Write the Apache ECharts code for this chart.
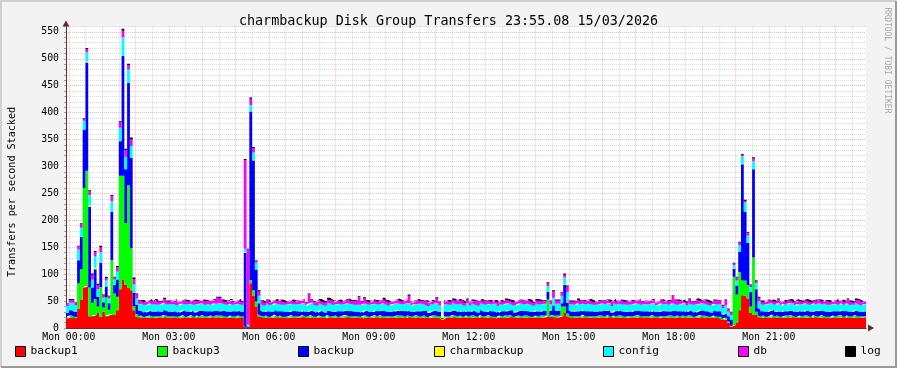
<!DOCTYPE html>
<html><head><meta charset="utf-8">
<script src="https://cdn.jsdelivr.net/npm/echarts@6/dist/echarts.min.js"></script>
<style>html,body{margin:0;padding:0;background:#f3f3f3;}#c{width:897px;height:368px;}</style>
</head><body><div id="c"></div>
<script>
// ---- data (5-minute steps starting Sun 23:55) ----
const stepMinutes = 5;
const startMinute = -5;
const seriesNames = ['backup1','backup3','backup','charmbackup','config','db','log'];
const xTickLabels = ['Mon 00:00','Mon 03:00','Mon 06:00','Mon 09:00','Mon 12:00','Mon 15:00','Mon 18:00','Mon 21:00'];
const yTickLabels = ['0','50','100','150','200','250','300','350','400','450','500','550'];

const backup1 = [
18,20,20,18,36,52,75,78,22,22,24,28,21,30,22,24,26,24,33,72,90,80,75,70,
33,21,19,20,19,19,20,18,19,20,19,21,19,19,20,19,18,19,20,19,19,21,19,20,
19,20,19,19,21,19,20,19,20,19,19,20,18,19,20,19,3,1,83,60,40,22,20,19,
20,19,19,21,19,20,19,18,19,20,19,19,20,21,19,19,20,19,19,20,19,18,20,19,
19,20,19,19,20,21,19,19,20,19,18,19,20,19,19,21,19,20,19,19,20,19,19,20,
19,20,19,21,19,19,20,19,19,20,18,19,20,19,19,16,19,20,19,21,19,19,20,19,
20,19,19,20,19,21,19,19,20,19,18,19,20,19,19,20,21,19,19,20,19,19,20,19,
19,20,19,19,20,23,20,21,19,20,22,28,22,20,19,19,20,19,21,19,19,20,19,19,
20,19,19,21,19,20,19,19,20,18,19,20,19,19,21,19,20,19,19,20,19,18,20,19,
19,20,19,19,21,19,20,19,19,20,19,19,21,19,20,19,19,20,19,18,15,16,10,3,
5,10,33,61,60,55,28,24,24,20,19,20,19,19,21,19,20,19,19,20,19,21,19,19,
20,19,19,20,19,21,19,19,20,19,18,19,20,19,19,21,19,20,19,19,20,19,19,20];

const backup3 = [
2,3,3,3,47,57,185,214,53,25,30,12,55,8,35,10,100,40,25,211,193,115,190,78,
8,5,3,3,2,3,3,4,3,2,3,3,4,3,2,3,3,3,4,2,3,3,2,3,
3,4,3,3,2,3,3,4,3,3,2,3,4,3,3,3,1,0,6,10,9,4,3,3,
3,2,3,4,3,3,2,3,3,4,3,3,2,3,3,3,4,3,2,3,3,3,4,3,
3,3,2,3,4,3,3,3,2,3,3,4,3,2,3,3,3,4,3,3,2,3,3,3,
4,3,3,2,3,3,4,3,3,3,2,3,3,4,3,0,3,2,3,3,4,3,3,2,
3,3,4,3,2,3,3,3,4,3,3,2,3,3,4,3,3,2,3,3,3,4,3,3,
2,3,3,4,3,30,3,3,4,3,18,12,5,3,3,3,2,3,4,3,3,2,3,3,
3,4,3,3,2,3,3,4,3,3,3,2,3,4,3,3,2,3,3,4,3,3,2,3,
3,3,4,3,2,3,3,3,4,3,2,3,3,4,3,3,2,3,3,3,2,3,2,1,
90,52,71,28,28,25,12,107,6,4,3,3,2,3,4,3,3,2,3,3,4,3,3,2,
3,3,4,3,2,3,3,3,4,3,3,2,3,3,4,3,2,3,3,3,4,3,3,2];

const backup = [
8,10,10,9,43,60,108,201,150,28,55,18,45,10,20,12,90,16,32,64,222,100,190,168,
24,17,10,9,8,9,10,8,9,9,8,10,9,8,9,10,8,9,9,10,8,9,8,9,
10,8,9,9,8,10,9,8,9,10,9,8,9,9,10,8,136,2,313,241,59,20,9,8,
9,10,8,9,9,8,10,9,8,9,9,10,8,9,8,9,10,9,8,9,10,8,9,9,
8,9,10,9,8,9,9,10,8,9,8,9,10,9,8,9,9,8,10,9,8,9,9,10,
8,9,9,10,8,9,8,9,10,9,8,9,9,10,8,0,9,8,9,10,9,8,9,9,
10,8,9,9,8,10,9,8,9,9,10,8,9,9,8,10,9,8,9,9,10,8,9,8,
9,10,8,9,9,14,9,18,9,10,6,40,20,9,8,9,10,9,8,9,9,10,8,9,
8,9,10,9,8,9,9,10,8,9,9,8,10,9,8,9,9,10,8,9,8,9,10,9,
9,8,9,10,8,9,9,8,10,9,8,9,9,10,8,9,8,10,9,10,8,9,10,12,
15,17,37,215,128,78,27,164,42,12,9,8,9,10,9,8,9,9,10,8,9,9,8,10,
9,8,10,9,9,8,9,10,8,9,9,10,8,9,8,9,10,9,8,9,10,9,8,9];

const charmbackup = [
1,0,0,0,0,0,0,2,2,0,3,0,0,0,0,0,0,0,0,0,0,0,0,0,
0,0,0,0,0,0,0,0,0,0,0,0,0,0,0,0,0,0,0,0,0,0,1,0,
0,0,0,0,0,0,0,0,0,0,0,0,0,0,0,0,1,0,0,0,0,0,0,0,
0,0,0,0,0,0,0,0,0,0,0,0,0,0,0,0,0,0,0,0,0,0,1,1,
0,0,0,0,0,0,0,0,0,0,0,0,0,0,0,0,0,0,0,0,0,0,0,1,
1,0,0,0,0,0,0,0,0,0,0,0,0,0,0,1,0,0,0,1,1,0,0,0,
0,0,0,0,0,0,0,0,0,0,0,0,0,0,0,0,0,0,0,0,0,1,0,0,
0,0,0,0,0,0,0,0,0,0,0,1,0,0,1,0,0,0,0,0,0,0,0,0,
0,0,0,0,0,0,0,0,0,0,0,0,0,0,0,0,0,0,0,0,0,0,0,1,
1,0,0,0,0,0,0,0,0,0,0,0,0,0,0,0,0,0,0,0,0,0,0,0,
1,0,0,1,0,0,0,0,0,0,0,0,0,0,0,0,0,0,0,0,0,0,0,0,
0,0,0,0,0,0,1,1,0,0,0,0,0,0,0,0,0,0,0,0,0,0,0,0];

const config = [
12,14,14,12,20,17,17,17,20,15,21,14,20,8,11,9,20,10,15,25,35,23,25,22,
16,12,12,13,14,12,13,14,13,12,14,13,12,14,13,12,13,14,12,13,14,12,13,12,
13,14,12,13,12,14,13,15,14,12,13,14,12,13,12,13,6,3,12,15,13,14,13,12,
14,12,13,12,14,13,12,13,14,12,13,12,14,13,12,14,13,12,13,14,12,13,12,14,
13,12,14,13,12,13,14,12,13,12,14,13,12,13,14,12,13,12,14,13,12,13,14,12,
13,12,14,13,12,13,12,14,13,12,13,14,12,13,12,0,13,14,12,13,12,14,13,12,
13,12,14,12,13,12,14,13,12,13,14,12,13,12,14,13,12,13,12,14,13,12,13,14,
12,13,14,12,13,11,12,14,13,12,14,13,20,12,13,12,14,13,12,13,14,12,13,12,
13,14,12,13,12,14,13,12,13,14,12,13,12,14,13,12,13,12,14,13,12,13,14,12,
13,12,14,13,12,13,14,12,13,12,14,13,12,13,14,12,13,12,13,13,12,14,8,8,
6,9,13,14,17,14,9,15,11,14,13,12,14,13,12,13,14,12,13,12,14,13,12,13,
12,14,13,12,13,14,12,13,12,14,13,12,13,14,12,13,12,14,13,12,13,14,12,13];

const db = [
4,5,5,5,6,8,4,6,7,9,8,8,9,5,5,4,9,4,8,10,12,12,8,12,
10,7,6,6,5,7,6,5,8,6,5,7,6,5,6,8,6,5,6,7,5,6,8,6,
5,6,7,6,8,6,12,10,6,5,6,7,5,6,7,6,165,140,12,8,4,8,6,5,
6,5,7,6,5,8,6,5,6,7,5,6,6,7,5,17,6,5,7,6,5,6,8,6,
5,7,6,5,6,8,5,6,7,14,6,10,6,5,7,6,5,6,8,7,6,5,6,7,
6,5,7,14,5,6,8,6,5,7,6,5,6,9,6,0,5,7,6,5,6,8,6,5,
7,6,5,6,8,6,5,7,6,5,6,7,5,6,8,6,5,6,7,5,6,7,8,6,
5,6,7,6,5,5,6,12,7,6,6,5,10,6,5,6,7,6,5,6,8,6,5,7,
6,5,7,6,8,6,5,6,7,5,6,7,6,5,8,6,5,6,7,6,5,6,7,5,
6,7,14,6,8,6,5,6,7,5,6,9,6,5,7,6,5,6,7,7,5,10,5,5,
3,6,5,3,3,4,4,5,5,6,6,5,7,6,5,6,7,6,5,6,7,5,6,7,
6,5,7,6,5,6,7,6,5,6,7,5,6,7,6,5,6,7,6,5,6,7,6,5];

const log = [
1,2,2,1,1,1,1,2,2,2,2,2,3,1,2,1,2,1,2,2,4,3,3,4,
3,2,2,1,2,1,2,1,2,1,2,2,1,2,1,2,1,2,2,1,2,1,2,1,
2,1,2,1,2,2,1,2,1,2,1,2,2,1,2,1,2,1,2,2,1,2,1,2,
1,2,1,2,2,1,2,1,2,1,2,1,2,2,1,2,1,2,1,2,2,1,2,1,
2,1,2,1,2,1,2,2,1,2,1,2,1,2,2,1,2,1,2,1,2,2,1,2,
1,2,1,2,2,1,2,1,2,1,2,2,1,2,1,1,2,1,2,2,1,2,1,2,
2,1,2,1,2,2,1,2,1,2,1,2,2,1,2,1,2,1,2,2,1,2,1,2,
1,2,2,1,2,2,1,2,1,2,1,2,2,1,2,1,2,1,2,2,1,2,1,2,
2,1,2,1,2,2,1,2,1,2,1,2,2,1,2,1,2,1,2,2,1,2,1,2,
1,2,1,2,2,1,2,1,2,1,2,2,1,2,1,2,1,2,1,1,1,1,1,1,
1,1,1,1,2,2,1,2,1,2,1,2,2,1,2,1,2,1,2,2,1,2,1,2,
1,2,1,2,2,1,2,1,2,1,2,2,1,2,1,2,1,2,2,1,2,1,2,1];

// ---- styles / layout ----
const seriesColors = ['#FF0000','#00FF00','#0000FF','#FFFF00','#00FFFF','#FF00FF','#000000'];
const legendLefts = [15,157,298,434,603,738,845];
const FONT = 'DejaVu Sans Mono';
const MAJOR = 'rgba(225,95,95,0.42)';
const MINOR = 'rgba(150,150,150,0.36)';
const NONE = 'rgba(0,0,0,0)';

const valueArrays = [backup1, backup3, backup, charmbackup, config, db, log];
const n = backup1.length;

// category boundaries: n+1 time stamps (minutes), each value spans [t_i, t_i+1]
const xMinutes = [];
for (let i = 0; i <= n; i++) xMinutes.push(String(startMinute + i * stepMinutes));

const series = valueArrays.map((arr, s) => ({
  name: seriesNames[s], type: 'line', stack: 'total', step: 'end',
  data: arr.concat([arr[n - 1]]), symbol: 'none', showSymbol: false, smooth: false,
  color: seriesColors[s],
  lineStyle: { width: 0, color: seriesColors[s] },
  itemStyle: { color: seriesColors[s] },
  areaStyle: { color: seriesColors[s], opacity: 1 },
  emphasis: { disabled: true }, silent: true, animation: false
}));

const isMinute = (val, every, offset) => { const v = Number(val); return v >= 0 && (v - offset) % every === 0; };

const chart = echarts.init(document.getElementById('c'), null, { renderer: 'canvas' });
chart.setOption({
  backgroundColor: '#f3f3f3',
  animation: false,
  title: {
    text: 'charmbackup Disk Group Transfers 23:55.08 15/03/2026',
    left: 'center', top: 10,
    textStyle: { fontFamily: FONT, fontSize: 13.4, fontWeight: 'normal', color: '#000' }
  },
  grid: { left: 66, right: 31, top: 26.5, bottom: 40, show: true, backgroundColor: '#ffffff', borderWidth: 0 },
  xAxis: [{
    type: 'category', data: xMinutes, boundaryGap: false,
    axisLine: { show: true, onZero: false, symbol: ['none', 'triangle'], symbolSize: [7, 6], symbolOffset: [0, 5],
      lineStyle: { color: '#6a2a2a', width: 1 } },
    axisTick: { show: false },
    axisLabel: {
      show: true, interval: 0, margin: 4, fontFamily: FONT, fontSize: 9.8, color: '#000',
      formatter: function (val) {
        const v = Number(val);
        if (v >= 0 && v % 180 === 0 && v / 180 < xTickLabels.length) return xTickLabels[v / 180];
        return '';
      }
    },
    splitLine: { show: true, interval: function (i, val) { return isMinute(val, 60, 0); },
      lineStyle: { color: MAJOR, type: [1, 1], width: 1 } }
  }, {
    type: 'category', data: xMinutes, boundaryGap: false, position: 'bottom',
    axisLine: { show: false }, axisTick: { show: false }, axisLabel: { show: false },
    splitLine: { show: true, interval: function (i, val) { return isMinute(val, 60, 30); },
      lineStyle: { color: MINOR, type: [1, 1], width: 1 } }
  }],
  yAxis: {
    type: 'value', min: 0, max: 560, interval: 10,
    axisLine: { show: true, symbol: ['none', 'triangle'], symbolSize: [7, 6], symbolOffset: [0, 3],
      lineStyle: { color: '#6a2a2a', width: 1 } },
    axisTick: { show: true, length: 2, lineStyle: { color: '#a0a0a0' } },
    axisLabel: {
      margin: 7, fontFamily: FONT, fontSize: 9.8, color: '#000',
      formatter: function (v) { return (v % 50 === 0 && v / 50 < yTickLabels.length) ? yTickLabels[v / 50] : ''; }
    },
    splitLine: { show: true, lineStyle: { color: [MAJOR, MINOR, MINOR, MINOR, MINOR], type: [1, 1], width: 1 } }
  },
  legend: seriesNames.map((name, i) => ({
    data: [name], left: legendLefts[i], top: 346, padding: 0,
    icon: 'rect', itemWidth: 10, itemHeight: 10, selectedMode: false,
    itemStyle: { borderColor: '#000', borderWidth: 1 },
    textStyle: { fontFamily: FONT, fontSize: 11.2, color: '#000' }
  })),
  graphic: [
    { type: 'text', x: 12, y: 192, rotation: Math.PI / 2, silent: true,
      style: { text: 'Transfers per second Stacked', fontFamily: FONT, fontSize: 10.1, fill: '#000', align: 'center', verticalAlign: 'middle' } },
    { type: 'text', x: 887.5, y: 60.5, rotation: -Math.PI / 2, silent: true,
      style: { text: 'RRDTOOL / TOBI OETIKER', fontFamily: FONT, fontSize: 8, fill: '#a8a8a8', align: 'center', verticalAlign: 'middle' } },
    { type: 'polyline', silent: true, shape: { points: [[1, 367], [1, 1], [896, 1]] }, style: { stroke: '#d0d0d0', lineWidth: 2, fill: null } },
    { type: 'polyline', silent: true, shape: { points: [[1, 367], [896, 367], [896, 1]] }, style: { stroke: '#9a9a9a', lineWidth: 2, fill: null } }
  ],
  series: series
});
</script></body></html>
